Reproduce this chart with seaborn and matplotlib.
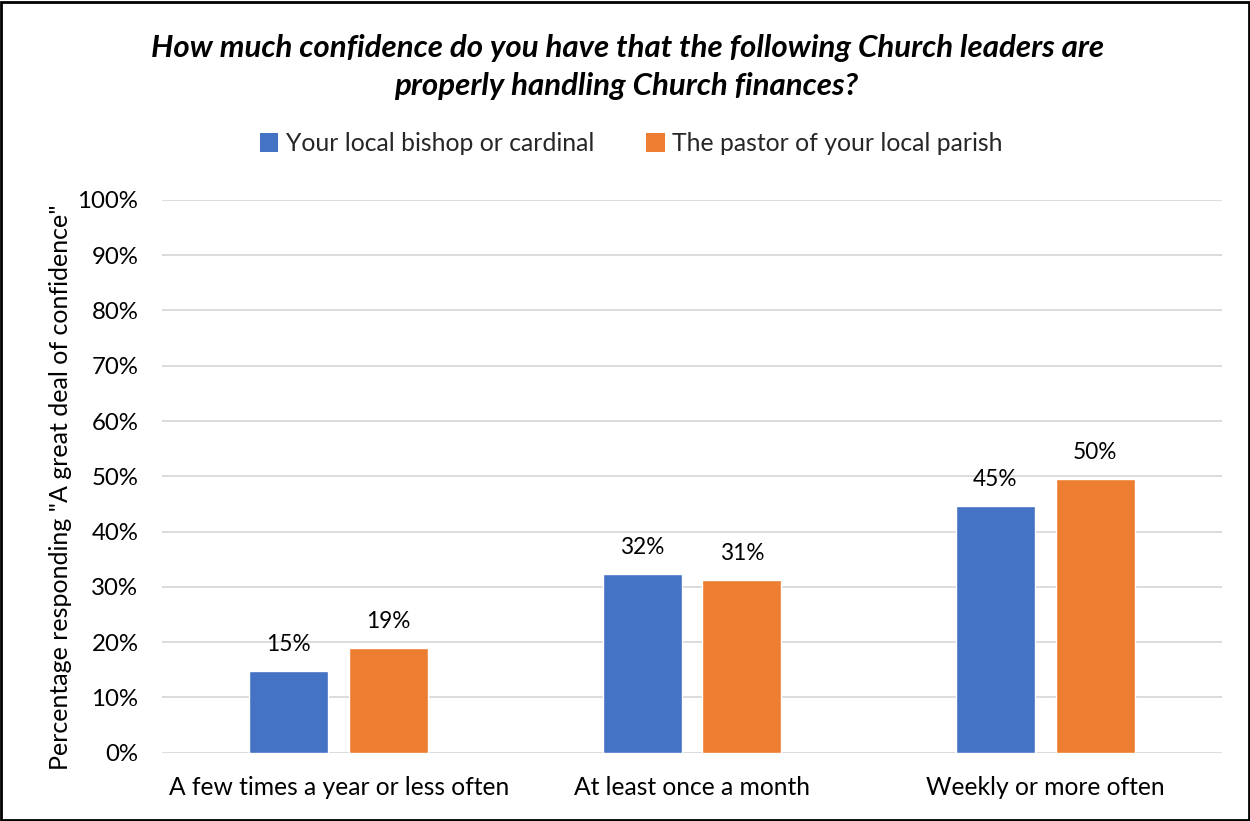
import matplotlib
matplotlib.use("Agg")
import matplotlib.pyplot as plt
import seaborn as sns
import pandas as pd
from matplotlib.patches import Rectangle, Patch

categories = ["A few times a year or less often", "At least once a month", "Weekly or more often"]
series = ["Your local bishop or cardinal", "The pastor of your local parish"]
bishop = [14.8, 32.3, 44.6]
pastor = [18.9, 31.3, 49.6]
bishop_labels = ["15%", "32%", "45%"]
pastor_labels = ["19%", "31%", "50%"]
yticks = [0, 10, 20, 30, 40, 50, 60, 70, 80, 90, 100]
ytick_labels = [f"{v}%" for v in yticks]
colors = ["#4472C4", "#ED7D31"]

df = pd.DataFrame({
    "category": categories * 2,
    "series": [series[0]] * 3 + [series[1]] * 3,
    "value": bishop + pastor,
})

sns.set_theme(style="white")
plt.rcParams["font.family"] = ["Lato", "DejaVu Sans"]

fig = plt.figure(figsize=(12.5, 8.21), dpi=100)
ax = fig.add_axes([0.1296, 0.0832, 0.848, 0.6733])

sns.barplot(data=df, x="category", y="value", hue="series", hue_order=series,
            order=categories, palette=colors, width=0.566, gap=0.21,
            saturation=1, legend=False, ax=ax, zorder=3)

for container, labels in zip(ax.containers, [bishop_labels, pastor_labels]):
    ax.bar_label(container, labels=labels, padding=11.5, fontsize=16.3, color="#000000")

ax.set_ylim(0, 100)
ax.set_xlim(-0.5, 2.5)
ax.set_yticks(yticks)
ax.set_yticklabels(ytick_labels)
ax.tick_params(axis="y", labelsize=17.3, colors="#000000", length=0, pad=17)
ax.tick_params(axis="x", labelsize=17.7, colors="#000000", length=0, pad=17)
ax.yaxis.grid(True, color="#D9D9D9", linewidth=1.3, zorder=0)
ax.set_axisbelow(True)
for s in ax.spines.values():
    s.set_visible(False)
ax.set_xlabel("")
ax.set_ylabel('Percentage responding "A great deal of confidence"', fontsize=18,
              color="#000000")
ax.yaxis.set_label_coords(-0.085, 0.48)

fig.text(0.502, 0.941, "How much confidence do you have that the following Church leaders are",
         ha="center", va="center", fontsize=22.5, fontweight="bold", fontstyle="italic", color="#000000")
fig.text(0.501, 0.895, "properly handling Church finances?",
         ha="center", va="center", fontsize=22.5, fontweight="bold", fontstyle="italic", color="#000000")

handles = [Patch(facecolor=c, edgecolor="none") for c in colors]
fig.legend(handles, series, loc="center", bbox_to_anchor=(0.505, 0.825), ncol=2,
           frameon=False, fontsize=17.8, handlelength=0.75, handleheight=0.75,
           handletextpad=0.3, columnspacing=2.1)

fig.patches.append(Rectangle((0.001, 0.001), 0.998, 0.997, transform=fig.transFigure,
                             fill=False, edgecolor="#000000", linewidth=2))

fig.savefig("out.png", dpi=100)
